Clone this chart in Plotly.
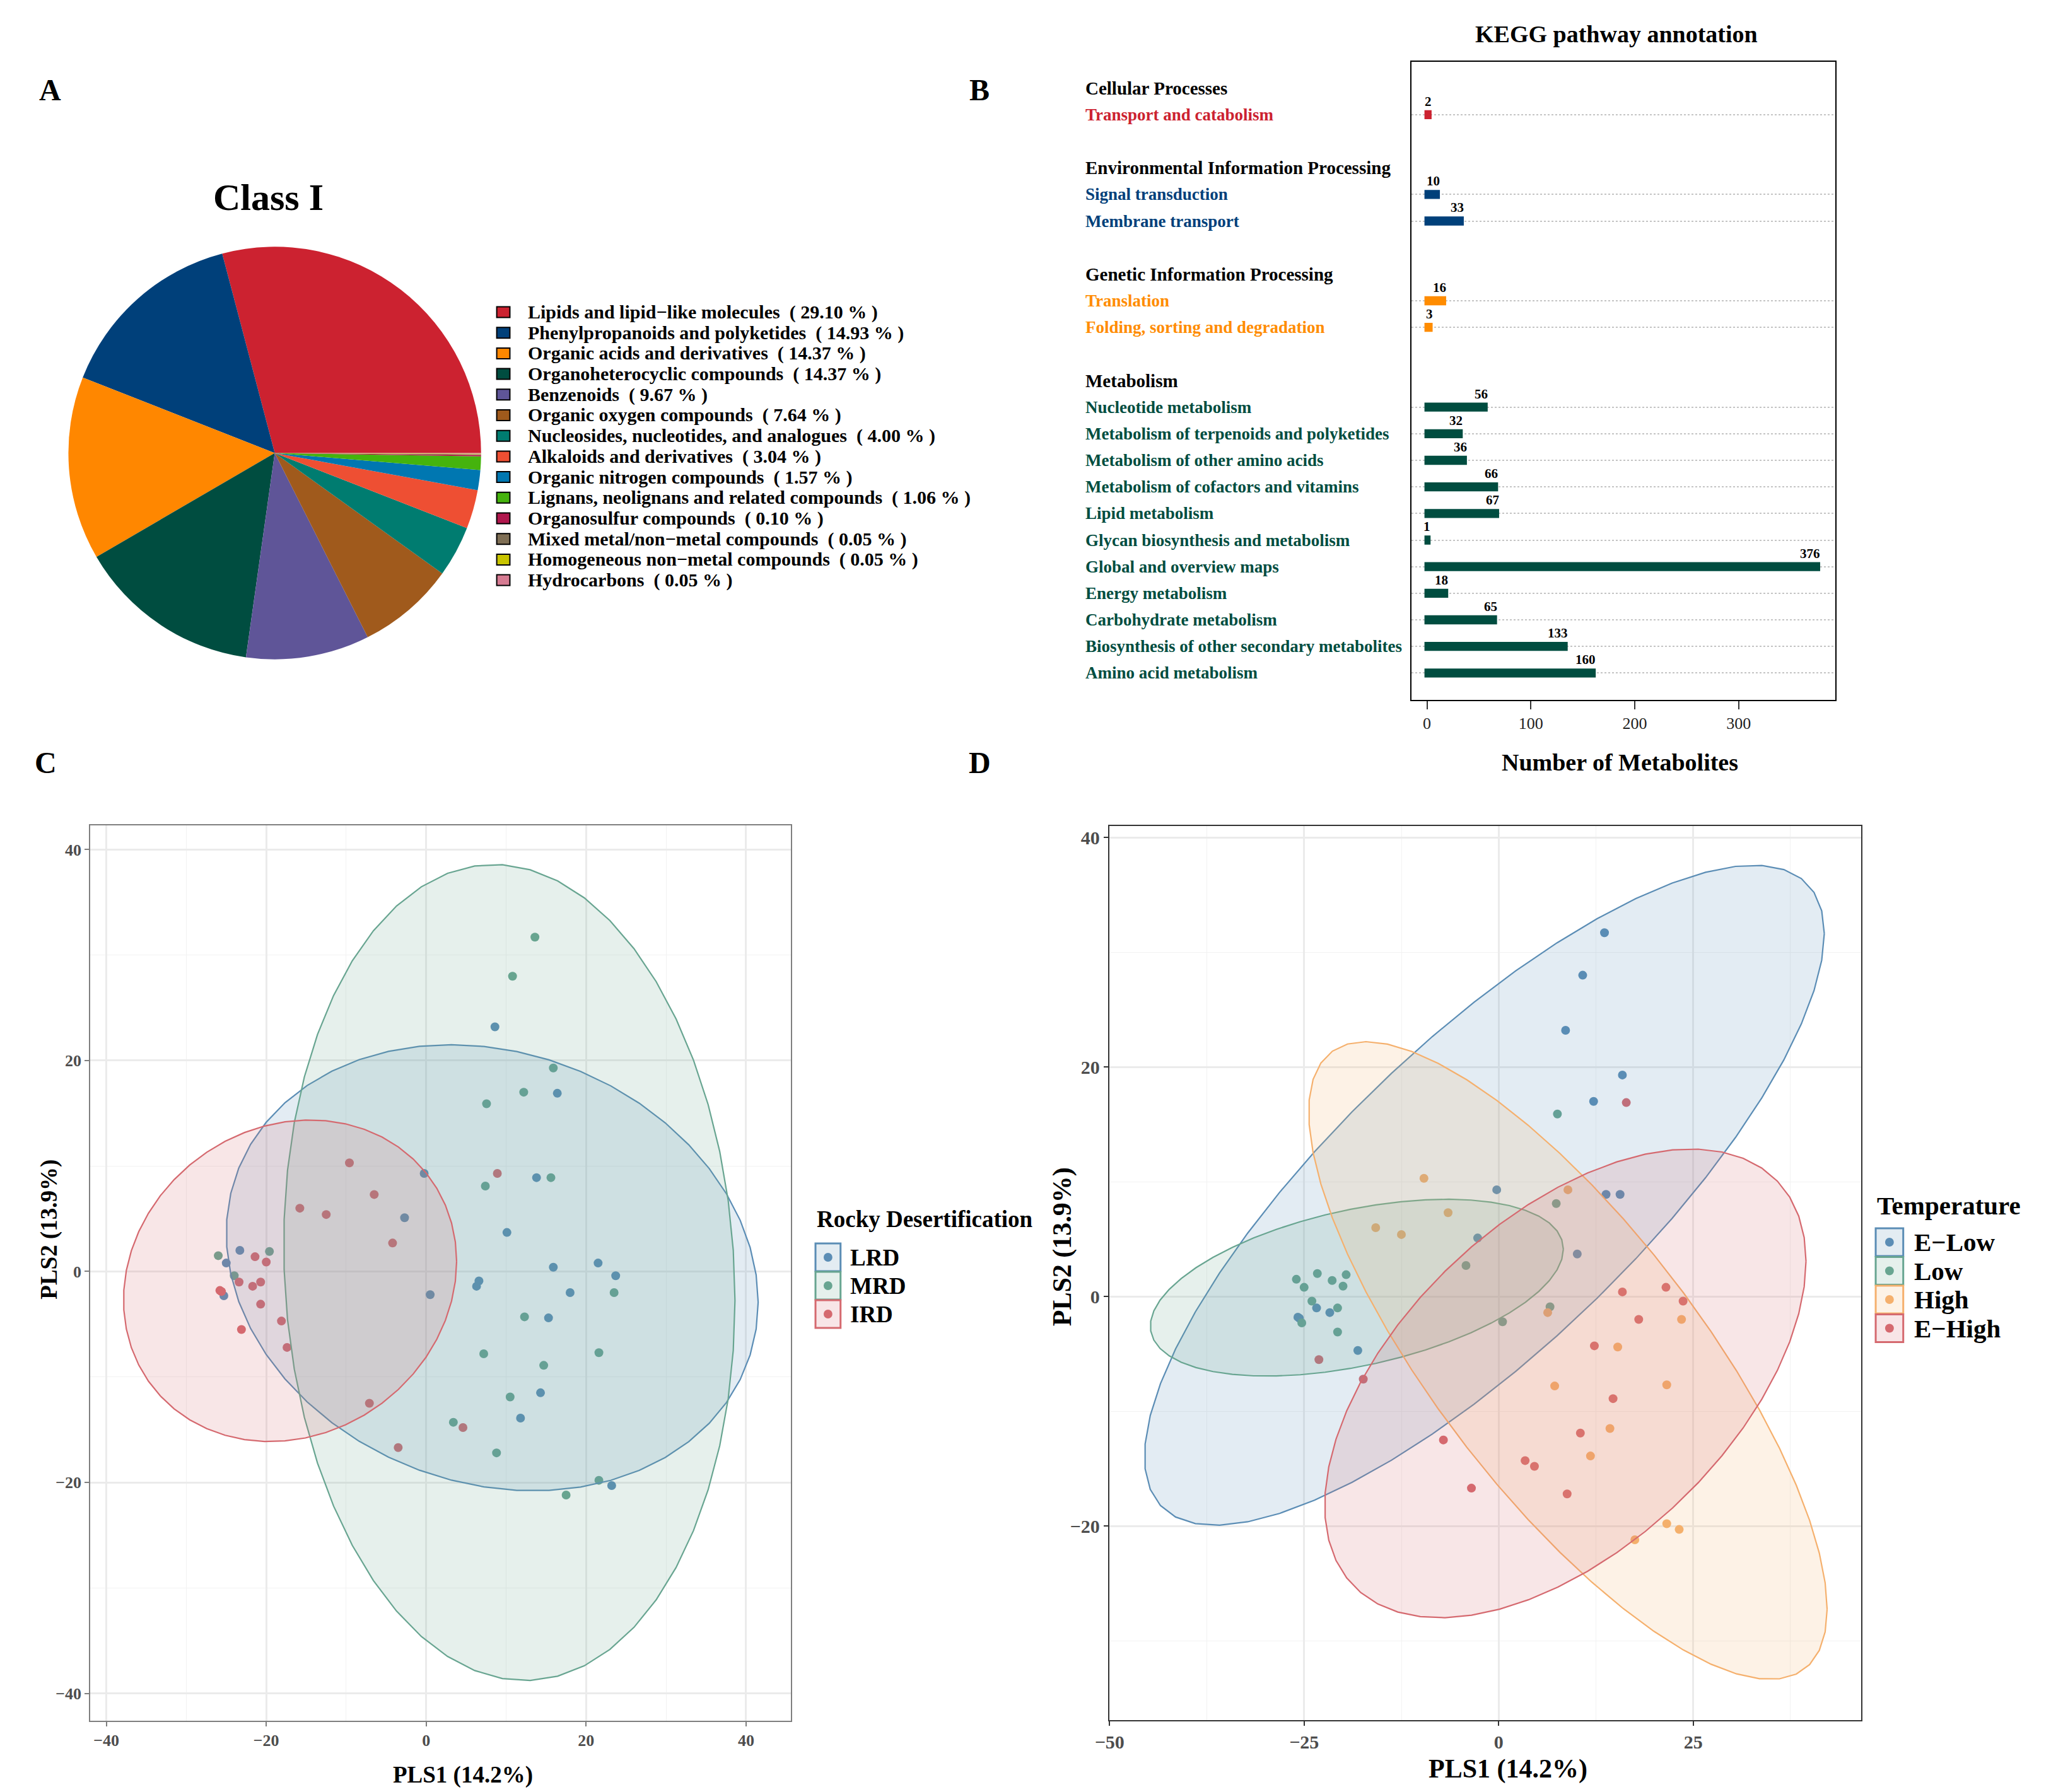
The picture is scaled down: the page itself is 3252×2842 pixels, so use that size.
import numpy as np
import plotly.graph_objects as go

W, H = 3252, 2842
FONT = "Liberation Serif"
OFFX, OFFY = -20, -8   # compensation for page offset of the rendered plot

# ---------------- Panel A data ----------------
class_names = ["Lipids and lipid−like molecules", "Phenylpropanoids and polyketides",
               "Organic acids and derivatives", "Organoheterocyclic compounds", "Benzenoids",
               "Organic oxygen compounds", "Nucleosides, nucleotides, and analogues",
               "Alkaloids and derivatives", "Organic nitrogen compounds",
               "Lignans, neolignans and related compounds", "Organosulfur compounds",
               "Mixed metal/non−metal compounds", "Homogeneous non−metal compounds", "Hydrocarbons"]
class_pct = [29.10, 14.93, 14.37, 14.37, 9.67, 7.64, 4.00, 3.04, 1.57, 1.06, 0.10, 0.05, 0.05, 0.05]
class_colors = ["#CC2230", "#00407A", "#FF8700", "#004D40", "#5F5598", "#A05A1C", "#007C70",
                "#EE4F33", "#0077B1", "#45B30D", "#B0174D", "#7F6F55", "#C8C400", "#D67B92"]

# ---------------- Panel B data ----------------
kegg_groups = ["Cellular Processes", "Environmental Information Processing",
               "Genetic Information Processing", "Metabolism"]
kegg_group_colors = ["#CC2230", "#00407A", "#FF8C00", "#004D40"]
kegg_pathways = ["Transport and catabolism", "Signal transduction", "Membrane transport",
                 "Translation", "Folding, sorting and degradation", "Nucleotide metabolism",
                 "Metabolism of terpenoids and polyketides", "Metabolism of other amino acids",
                 "Metabolism of cofactors and vitamins", "Lipid metabolism",
                 "Glycan biosynthesis and metabolism", "Global and overview maps",
                 "Energy metabolism", "Carbohydrate metabolism",
                 "Biosynthesis of other secondary metabolites", "Amino acid metabolism"]
kegg_pathway_group = [0, 1, 1, 2, 2, 3, 3, 3, 3, 3, 3, 3, 3, 3, 3, 3]
kegg_counts = [2, 10, 33, 16, 3, 56, 32, 36, 66, 67, 1, 376, 18, 65, 133, 160]
kegg_ticks = [0, 100, 200, 300]

# ---------------- Panels C / D data (same samples) ----------------
pls1 = [13.6, 10.8, 8.6, 15.9, 12.2, 13.8, 15.6, -0.25, -2.7, 10.1, -25.8, -25.6, -23.4, -21.7, -18.1,
        7.55, 7.4, -4.2, 6.6, 0.5, -26.0, -23.3, -25.0, -21.4, -19.6, -20.0, -24.0, -20.7, -25.3, -20.7,
        -9.6, -6.5, -15.8, -12.5, 8.9, 6.3, 7.2, 15.3, 23.5, 21.6, 14.3, 11.8, 21.6, 23.2, 17.5,
        16.4, 15.9, 21.5, 23.7, 18.0, 12.3, 14.7, 10.5, 3.4, 4.6, 8.8, -3.5, -7.1, -17.4, -23.1]
pls2 = [31.7, 28.0, 23.2, 19.3, 17.0, 8.9, 8.9, 9.3, 5.1, 3.7, -1.8, -1.9, -1.0, -1.4, -4.7,
        15.9, 8.1, 2.7, -0.9, -2.2, 1.5, 2.0, 0.8, 1.4, 1.9, 0.9, -0.4, -1.0, -2.3, -3.1,
        10.3, 7.3, 6.0, 5.4, 9.3, -1.4, -7.8, -4.4, -2.0, -7.7, -11.5, -13.9, -19.8, -20.3, -21.2,
        16.9, 0.4, 0.8, -0.4, -2.0, -4.3, -8.9, -11.9, -14.3, -14.8, -17.2, -16.7, -12.5, -7.2, -5.5]
rocky = ["MRD", "MRD", "LRD", "MRD", "MRD", "LRD", "MRD", "LRD", "LRD", "LRD", "IRD", "IRD", "IRD", "IRD", "IRD",
         "MRD", "MRD", "IRD", "LRD", "LRD", "MRD", "LRD", "LRD", "IRD", "MRD", "IRD", "MRD", "IRD", "LRD", "IRD",
         "IRD", "IRD", "IRD", "IRD", "IRD", "LRD", "MRD", "LRD", "MRD", "MRD", "LRD", "LRD", "MRD", "LRD", "MRD",
         "LRD", "LRD", "LRD", "LRD", "LRD", "MRD", "MRD", "MRD", "MRD", "IRD", "MRD", "IRD", "IRD", "IRD", "IRD"]
temperature = ["E−Low"] * 15 + ["Low"] * 15 + ["High"] * 15 + ["E−High"] * 15

rocky_levels = ["LRD", "MRD", "IRD"]
rocky_colors = ["#5B8DB5", "#68A591", "#D5696F"]
temp_levels = ["E−Low", "Low", "High", "E−High"]
temp_colors = ["#5B8DB5", "#68A591", "#F5B06D", "#D5696F"]
FILL_ALPHA = 0.17


# ---------------- helpers ----------------
def px(x):
    return (x + OFFX) / W


def py(y):
    return 1 - (y + OFFY) / H


def hex_rgb(c):
    c = c.lstrip("#")
    return tuple(int(c[i:i + 2], 16) for i in (0, 2, 4))


def rgba(c, a):
    r, g, b = hex_rgb(c)
    return f"rgba({r},{g},{b},{a})"


def blend(c, a):
    r, g, b = hex_rgb(c)
    return "rgb({},{},{})".format(*[int(round(v * a + 255 * (1 - a))) for v in (r, g, b)])


def cov_trob(X, nu=5, maxit=25, tol=0.01):
    n, p = X.shape
    wt = np.ones(n)
    loc = X.mean(axis=0)
    w = np.sqrt(wt)
    Xc = X - loc
    for _ in range(maxit):
        w0 = w
        Xc = X - loc
        _, d, Vt = np.linalg.svd(np.sqrt(w / w.sum())[:, None] * Xc, full_matrices=False)
        wX = Xc @ Vt.T @ np.diag(1 / d)
        Q = (wX ** 2).sum(axis=1)
        w = wt * (nu + p) / (nu + Q)
        loc = (w[:, None] * X).sum(axis=0) / w.sum()
        if np.all(np.abs(w - w0) < tol):
            break
    sX = np.sqrt(w)[:, None] * Xc
    cov = sX.T @ sX / wt.sum()
    return loc, cov


def stat_ellipse(x, y, level=0.95, segments=51):
    X = np.column_stack([x, y]).astype(float)
    n = len(X)
    center, shape = cov_trob(X)
    dfd = n - 1
    qf = dfd / 2 * ((1 - level) ** (-2 / dfd) - 1)  # F(2, dfd) quantile
    radius = np.sqrt(2 * qf)
    R = np.linalg.cholesky(shape).T
    ang = np.arange(segments + 1) * 2 * np.pi / segments
    circ = np.column_stack([np.cos(ang), np.sin(ang)])
    e = center + radius * (circ @ R)
    return e[:, 0], e[:, 1]


fig = go.Figure()
annotations = []
shapes = []


def ann(text, x, y, size, color="black", bold=True, xanchor="center", yanchor="middle",
        angle=0, xref="paper", yref="paper", xshift=0):
    annotations.append(dict(
        text=f"<b>{text}</b>" if bold else text,
        x=px(x) if xref == "paper" else x,
        y=py(y) if yref == "paper" else y,
        xref=xref, yref=yref, xanchor=xanchor, yanchor=yanchor, showarrow=False,
        textangle=angle, xshift=xshift,
        font=dict(family=FONT, size=size, color=color)))


# ---------------- Panel A: pie ----------------
# first slice starts at 3 o'clock and slices run counter-clockwise (as coord_polar)
first_deg = 360 * class_pct[0] / sum(class_pct)
fig.add_trace(go.Pie(values=class_pct, labels=class_names, sort=False,
                     direction="counterclockwise", rotation=90 - first_deg,
                     marker=dict(colors=class_colors, line=dict(width=0)),
                     textinfo="none", showlegend=False,
                     domain=dict(x=[px(98), px(757)], y=[py(1047), py(390)])))
ann("A", 69, 142, 48)
ann("Class I", 417, 313, 60)
for i, (nm, pc, col) in enumerate(zip(class_names, class_pct, class_colors)):
    yc = 495 + 32.7 * i
    shapes.append(dict(type="rect", xref="paper", yref="paper",
                       x0=px(782), x1=px(803), y0=py(yc + 8.5), y1=py(yc - 8.5),
                       fillcolor=col, line=dict(color="black", width=2)))
    ann(f"{nm}  ( {pc:.2f} % )", 830, yc, 30, xanchor="left")

# ---------------- Panel B: KEGG bars ----------------
header_rows, path_rows = [], [0] * len(kegg_pathways)
r = 0
for gi in range(len(kegg_groups)):
    header_rows.append(r)
    r += 1
    for pi, pg in enumerate(kegg_pathway_group):
        if pg == gi:
            path_rows[pi] = r
            r += 1
    r += 1

for gi, gcol in enumerate(kegg_group_colors):
    idx = [i for i, g in enumerate(kegg_pathway_group) if g == gi]
    fig.add_trace(go.Bar(orientation="h", x=[kegg_counts[i] for i in idx],
                         y=[path_rows[i] for i in idx], width=0.15,
                         marker=dict(color=gcol, line=dict(color=gcol, width=8)),
                         showlegend=False, xaxis="x", yaxis="y"))

for gi, g in enumerate(kegg_groups):
    ann(g, 1720, header_rows[gi], 29, xanchor="left", yref="y")
for pi, p in enumerate(kegg_pathways):
    ann(p, 1720, path_rows[pi], 27, color=kegg_group_colors[kegg_pathway_group[pi]],
        xanchor="left", yref="y")
    ann(str(kegg_counts[pi]), kegg_counts[pi], path_rows[pi] - 0.17, 21, xanchor="right",
        yanchor="bottom", xref="x", yref="y", xshift=6)
ann("B", 1553, 142, 48)
ann("KEGG pathway annotation", 2570, 54, 38)
ann("Number of Metabolites", 2576, 1209, 38)

# ---------------- Panels C & D: PLS scatter with ellipses ----------------
def add_pls(groups, levels, colors, xa, ya):
    for lv, col in zip(levels, colors):
        xs = [a for a, g in zip(pls1, groups) if g == lv]
        ys = [b for b, g in zip(pls2, groups) if g == lv]
        fig.add_trace(go.Scatter(x=xs, y=ys, mode="markers",
                                 marker=dict(size=14, color=col, line=dict(width=0)),
                                 showlegend=False, xaxis=xa, yaxis=ya))
    for lv, col in zip(levels, colors):
        xs = [a for a, g in zip(pls1, groups) if g == lv]
        ys = [b for b, g in zip(pls2, groups) if g == lv]
        ex, ey = stat_ellipse(xs, ys)
        fig.add_trace(go.Scatter(x=ex, y=ey, mode="lines", fill="toself",
                                 fillcolor=rgba(col, FILL_ALPHA),
                                 line=dict(color=col, width=2.2),
                                 showlegend=False, hoverinfo="skip", xaxis=xa, yaxis=ya))


add_pls(rocky, rocky_levels, rocky_colors, "x2", "y2")
add_pls(temperature, temp_levels, temp_colors, "x3", "y3")

ann("C", 62, 1209, 48)
ann("D", 1553, 1209, 48)
ann("PLS1 (14.2%)", 728, 2815, 37)
ann("PLS2 (13.9%)", 67, 1950, 37, angle=-90)
ann("PLS1 (14.2%)", 2397, 2805, 42)
ann("PLS2 (13.9%)", 1685, 1977, 42, angle=-90)


def legend_block(title, levels, colors, x0, title_y, top, step, bw, bh, tx, size):
    ann(title, x0, title_y, size, xanchor="left")
    for i, (lv, col) in enumerate(zip(levels, colors)):
        t = top + step * i
        shapes.append(dict(type="rect", xref="paper", yref="paper",
                           x0=px(x0), x1=px(x0 + bw), y0=py(t + bh), y1=py(t),
                           fillcolor=blend(col, FILL_ALPHA), line=dict(color=col, width=3)))
        cx, cy, rr = x0 + bw / 2, t + bh / 2, 7
        shapes.append(dict(type="circle", xref="paper", yref="paper",
                           x0=px(cx - rr), x1=px(cx + rr), y0=py(cy + rr), y1=py(cy - rr),
                           fillcolor=col, line=dict(width=0)))
        ann(lv, tx, cy, size, xanchor="left")


legend_block("Rocky Desertification", rocky_levels, rocky_colors, 1291, 1933, 1972, 45, 40, 44, 1344, 37)
legend_block("Temperature", temp_levels, temp_colors, 2984, 1912, 1948, 45.5, 44, 44, 3043, 41)

# ---------------- axes ----------------
def sc_axis(domain, rng, dtick, mdtick, linecol, tsize):
    return dict(domain=domain, range=rng, tick0=0, dtick=dtick, ticks="outside", ticklen=7,
                tickwidth=2, tickcolor=linecol, showgrid=True, gridcolor="#EBEBEB", gridwidth=2.5,
                minor=dict(tick0=0, dtick=mdtick, showgrid=True, gridcolor="#F2F2F2", gridwidth=1.2),
                showline=True, mirror=True, linecolor=linecol, linewidth=2, zeroline=False,
                tickfont=dict(family=FONT, size=tsize, color="#4D4D4D", weight="bold"))


xa2 = sc_axis([px(133), px(1251.6)], [-42, 45.6], 20, 10, "#7F7F7F", 26)
ya2 = sc_axis([py(2729), py(1309)], [-42.6, 42.3], 20, 10, "#7F7F7F", 26)
xa3 = sc_axis([px(1760), px(2961)], [-50.05, 46.6], 25, 12.5, "#333333", 30)
ya3 = sc_axis([py(2727.7), py(1310)], [-36.9, 41.0], 20, 10, "#333333", 30)
xa2["anchor"] = "y2"; ya2["anchor"] = "x2"
xa3["anchor"] = "y3"; ya3["anchor"] = "x3"

fig.update_layout(
    width=W, height=H, margin=dict(l=0, r=0, t=0, b=0),
    paper_bgcolor="white", plot_bgcolor="white", showlegend=False,
    font=dict(family=FONT),
    xaxis=dict(domain=[px(2242.6), px(2919.5)], range=[-15, 393], tickvals=kegg_ticks,
               ticks="outside", ticklen=13, tickwidth=2, tickcolor="#333333",
               showline=True, mirror=True, linecolor="black", linewidth=2,
               showgrid=False, zeroline=False, anchor="y",
               tickfont=dict(family=FONT, size=26, color="#222222")),
    yaxis=dict(domain=[py(1109.5), py(97.5)], range=[23, -1], tickvals=path_rows,
               showticklabels=False, ticks="", showgrid=True, griddash="dot",
               gridcolor="#C4C4C4", gridwidth=2, showline=True, mirror=True,
               linecolor="black", linewidth=2, zeroline=False, anchor="x"),
    xaxis2=xa2, yaxis2=ya2, xaxis3=xa3, yaxis3=ya3,
    annotations=annotations, shapes=shapes,
)

fig.write_html("out.html")
